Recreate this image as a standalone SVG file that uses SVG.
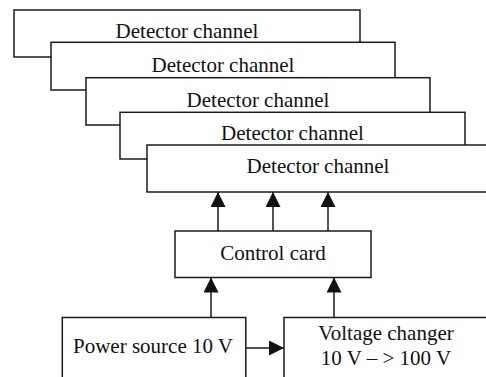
<svg xmlns="http://www.w3.org/2000/svg" width="486" height="377" viewBox="0 0 486 377">
<style>
.box{fill:#fff;stroke:#1a1a1a;stroke-width:1.5}
.t{font-family:"Liberation Serif","Times New Roman",serif;font-size:21px;fill:#111;text-anchor:middle}
.c{stroke:#1a1a1a;stroke-width:1.5;fill:none;marker-end:url(#ah)}
</style>
<defs>
<marker id="ah" markerUnits="userSpaceOnUse" markerWidth="16" markerHeight="16" refX="15" refY="7.5" orient="auto">
<path d="M0,0 L15,7.5 L0,15 Z" fill="#111"/>
</marker>
</defs>
<rect width="486" height="377" fill="#fff"/>
<g id="det1"><rect class="box" x="14" y="10" width="346" height="47"/><text class="t" x="187" y="38">Detector channel</text></g>
<g id="det2"><rect class="box" x="51" y="42.3" width="344" height="47.7"/><text class="t" x="223" y="72">Detector channel</text></g>
<g id="det3"><rect class="box" x="86" y="77.7" width="344" height="47.3"/><text class="t" x="258" y="107">Detector channel</text></g>
<g id="det4"><rect class="box" x="120" y="112.3" width="345" height="46.7"/><text class="t" x="292.5" y="140">Detector channel</text></g>
<g id="det5"><rect class="box" x="147" y="145" width="343" height="47"/><text class="t" x="318" y="173">Detector channel</text></g>
<g id="control"><rect class="box" x="175" y="231" width="196" height="46.5"/><text class="t" x="273" y="260">Control card</text></g>
<g id="power"><rect class="box" x="62.3" y="317.5" width="183.5" height="70"/><text class="t" x="153" y="353">Power source 10 V</text></g>
<g id="changer"><rect class="box" x="284" y="317.5" width="206" height="70"/><text class="t" x="386" y="340">Voltage changer</text><text class="t" x="386" y="365">10 V – &gt; 100 V</text></g>
<g id="connectors">
<line class="c" x1="218" y1="231" x2="218" y2="192"/>
<line class="c" x1="273" y1="231" x2="273" y2="192"/>
<line class="c" x1="328" y1="231" x2="328" y2="192"/>
<line class="c" x1="211" y1="317.5" x2="211" y2="277.5"/>
<line class="c" x1="334" y1="317.5" x2="334" y2="277.5"/>
<line class="c" x1="246" y1="348" x2="284" y2="348"/>
</g>
</svg>
